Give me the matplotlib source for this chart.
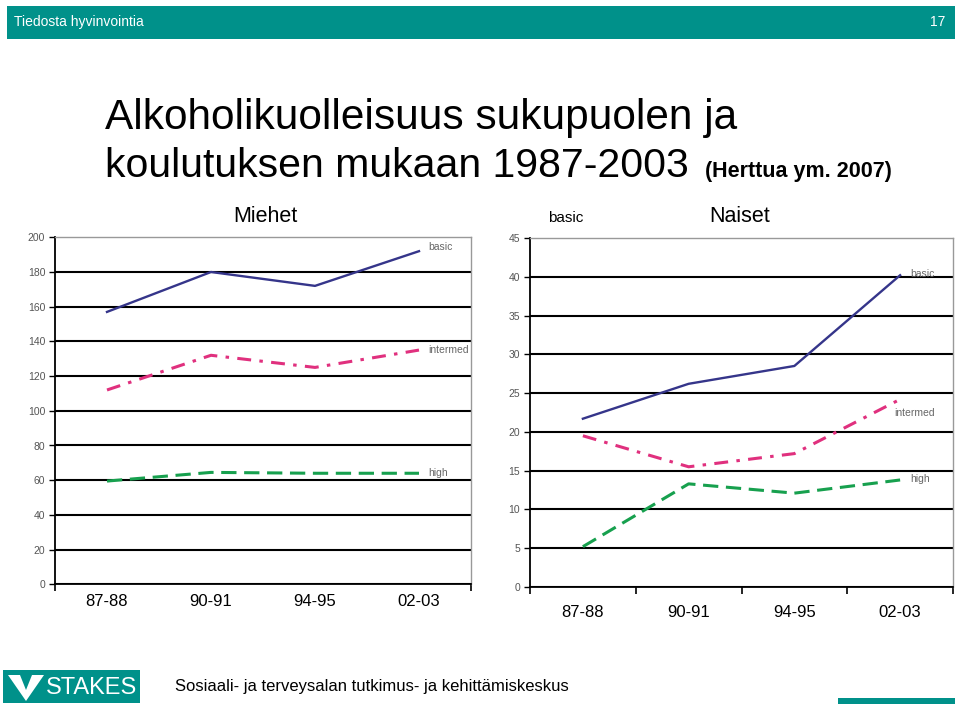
import numpy as np
import matplotlib
matplotlib.use('Agg')
import matplotlib.pyplot as plt
from matplotlib.patches import Rectangle, Polygon

plt.rcParams['font.family'] = ['Liberation Sans', 'DejaVu Sans']
plt.rcParams['lines.scale_dashes'] = False

# data
periods = ['87-88', '90-91', '94-95', '02-03']
groups = ['basic', 'intermed', 'high']
men_basic = [157, 180, 172, 192]
men_intermed = [112, 132, 125, 135]
men_high = [59.5, 64.5, 64, 64]
women_basic = [21.7, 26.2, 28.5, 40.2]
women_intermed = [19.5, 15.5, 17.2, 24.2]
women_high = [5.2, 13.3, 12.1, 13.8]
men_yticks = list(range(0, 201, 20))
women_yticks = list(range(0, 46, 5))

teal = '#00918a'
colors = {'basic': '#35358a', 'intermed': '#e0307e', 'high': '#17a04e'}
dashes = {'basic': None, 'intermed': (10, 6, 2.5, 6), 'high': (11, 5.5)}

fig = plt.figure(figsize=(9.6, 7.08), dpi=100)

# header bar
fig.patches.append(Rectangle((7/960, 1-39/708), 948/960, 33/708, transform=fig.transFigure,
                             facecolor=teal, edgecolor='none'))
fig.text(14/960, 1-22/708, 'Tiedosta hyvinvointia', color='white', fontsize=10, va='center')
fig.text(945/960, 1-22/708, '17', color='white', fontsize=10, va='center', ha='right')

# title
fig.text(105/960, 1-118/708, 'Alkoholikuolleisuus sukupuolen ja', fontsize=30.5, va='center')
fig.text(105/960, 1-166/708, 'koulutuksen mukaan 1987-2003', fontsize=29.5, va='center')
fig.text(705/960, 1-172/708, '(Herttua ym. 2007)', fontsize=15.5, fontweight='bold', va='center')


def draw_panel(rect, series, yticks, title, title_x, label_offsets, minor_ticks, label_pad):
    ax = fig.add_axes(rect)
    x = np.arange(len(periods))
    for g, vals in zip(groups, series):
        ln, = ax.plot(x, vals, color=colors[g], lw=2.2 if g != 'basic' else 1.7)
        if dashes[g]:
            ln.set_dashes(dashes[g])
        ax.annotate(g, xy=(x[-1], vals[-1]), xytext=label_offsets[g], textcoords='offset points',
                    fontsize=7.5, color='#666666', va='center')
    ax.set_xlim(-0.5, len(periods) - 0.5)
    ax.set_ylim(yticks[0], yticks[-1])
    ax.set_yticks(yticks)
    ax.set_yticklabels([str(t) for t in yticks], fontsize=7.5, color='#555555')
    ax.tick_params(axis='y', length=4, width=1, pad=3)
    ax.set_xticks(x)
    ax.set_xticklabels(periods, fontsize=12)
    ax.tick_params(axis='x', which='major', length=0, pad=label_pad)
    ax.set_xticks(minor_ticks, minor=True)
    ax.tick_params(axis='x', which='minor', length=5, width=1.2)
    ax.yaxis.grid(True, color='black', lw=1.5)
    ax.set_axisbelow(True)
    ax.get_ygridlines()[-1].set_visible(False)
    for s in ['left', 'bottom']:
        ax.spines[s].set_color('black')
        ax.spines[s].set_linewidth(1.3)
    for s in ['top', 'right']:
        ax.spines[s].set_color('#999999')
        ax.spines[s].set_linewidth(1)
    fig.text(title_x / 960, 1 - 216/708, title, fontsize=15.5, ha='center', va='center')
    return ax


draw_panel([55/960, 1-584.3/708, 416/960, 347/708],
           [men_basic, men_intermed, men_high], men_yticks, 'Miehet', 265,
           {'basic': (7, 3), 'intermed': (7, 0), 'high': (7, 0)}, [-0.5, 3.5], 7)
draw_panel([530/960, 1-587/708, 423/960, 349/708],
           [women_basic, women_intermed, women_high], women_yticks, 'Naiset', 740,
           {'basic': (7, 1), 'intermed': (-4, -10), 'high': (7, 1)},
           [-0.5, 0.5, 1.5, 2.5, 3.5], 13)
fig.text(566/960, 1-218/708, 'basic', fontsize=11, ha='center', va='center')

# footer
fig.patches.append(Rectangle((3/960, 1-703/708), 137/960, 33/708, transform=fig.transFigure,
                             facecolor=teal, edgecolor='none'))
fig.patches.append(Polygon([(8/960, 1-675/708), (20/960, 1-675/708), (26/960, 1-690/708),
                            (32/960, 1-675/708), (44/960, 1-675/708), (26/960, 1-701/708)],
                           closed=True, transform=fig.transFigure, facecolor='white', edgecolor='none'))
fig.text(92/960, 1-688/708, 'STAKES', color='white', fontsize=17, ha='center', va='center')
fig.text(175/960, 1-687/708, 'Sosiaali- ja terveysalan tutkimus- ja kehittämiskeskus', fontsize=12,
         va='center')
fig.patches.append(Rectangle((838/960, 1-704/708), 117/960, 6/708, transform=fig.transFigure,
                             facecolor=teal, edgecolor='none'))

fig.savefig('out.png', dpi=100)
